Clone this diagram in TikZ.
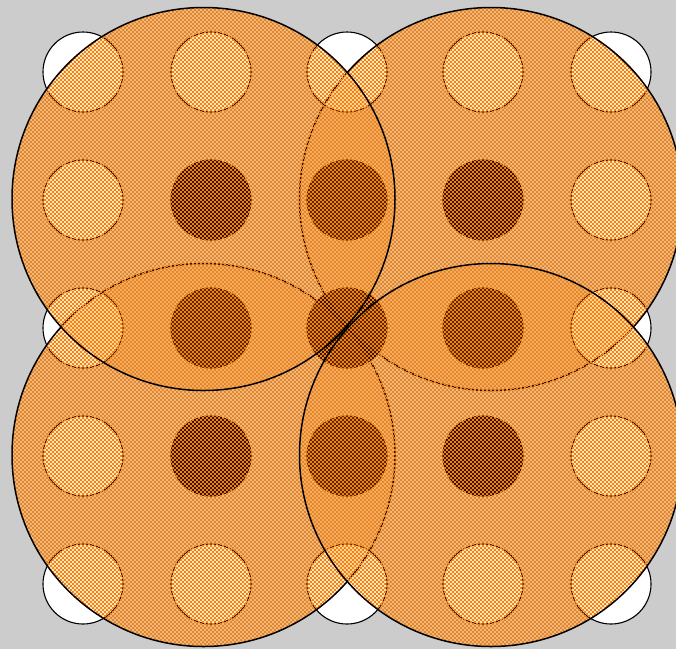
\documentclass[tikz,border=0pt]{standalone}
\usepackage{tikz}
\usetikzlibrary{patterns.meta}
\definecolor{bggray}{HTML}{CCCCCC}
\definecolor{rorange}{HTML}{FF8000}
\tikzdeclarepattern{
 name=finechecker,
 type=uncolored,
 bounding box={(0pt,0pt) and (4.3pt,4.3pt)},
 tile size={(4pt,4pt)},
 code={
  \fill (0pt,0pt) rectangle (2.3pt,2.3pt);
  \fill (2pt,2pt) rectangle (4.3pt,4.3pt);
 }
}
\tikzset{
 dot/.style={circle,draw=black,line width=1.1pt,minimum size=80pt,inner sep=0pt},
 whitedot/.style={dot,fill=white},
 blackdot/.style={dot,fill=black},
 cover/.style={circle,draw=black,line width=1.5pt,minimum size=383pt,inner sep=0pt,
   preaction={fill=rorange,fill opacity=0.18},
   pattern=finechecker,pattern color=rorange}
}

\begin{document}
\begin{tikzpicture}[x=1pt,y=-1pt]
 \clip (0,0) rectangle (676,649);
 \fill[bggray] (0,0) rectangle (676,649);
 % outer ring of white dots
 \node[whitedot] (d11) at (83,72) {};
 \node[whitedot] (d12) at (211,72) {};
 \node[whitedot] (d13) at (347,72) {};
 \node[whitedot] (d14) at (483,72) {};
 \node[whitedot] (d15) at (611,72) {};
 \node[whitedot] (d21) at (83,200) {};
 \node[whitedot] (d25) at (611,200) {};
 \node[whitedot] (d31) at (83,328) {};
 \node[whitedot] (d35) at (611,328) {};
 \node[whitedot] (d41) at (83,456) {};
 \node[whitedot] (d45) at (611,456) {};
 \node[whitedot] (d51) at (83,584) {};
 \node[whitedot] (d52) at (211,584) {};
 \node[whitedot] (d53) at (347,584) {};
 \node[whitedot] (d54) at (483,584) {};
 \node[whitedot] (d55) at (611,584) {};
 % inner block of black dots
 \node[blackdot] (d22) at (211,200) {};
 \node[blackdot] (d23) at (347,200) {};
 \node[blackdot] (d24) at (483,200) {};
 \node[blackdot] (d32) at (211,328) {};
 \node[blackdot] (d33) at (347,328) {};
 \node[blackdot] (d34) at (483,328) {};
 \node[blackdot] (d42) at (211,456) {};
 \node[blackdot] (d43) at (347,456) {};
 \node[blackdot] (d44) at (483,456) {};
 % large covering discs
 \node[cover] (botleft) at (203.5,455) {};
 \node[cover] (topright) at (491,199) {};
 \node[cover] (topleft) at (203.5,199) {};
 \node[cover] (botright) at (491,455) {};
\end{tikzpicture}
\end{document}
